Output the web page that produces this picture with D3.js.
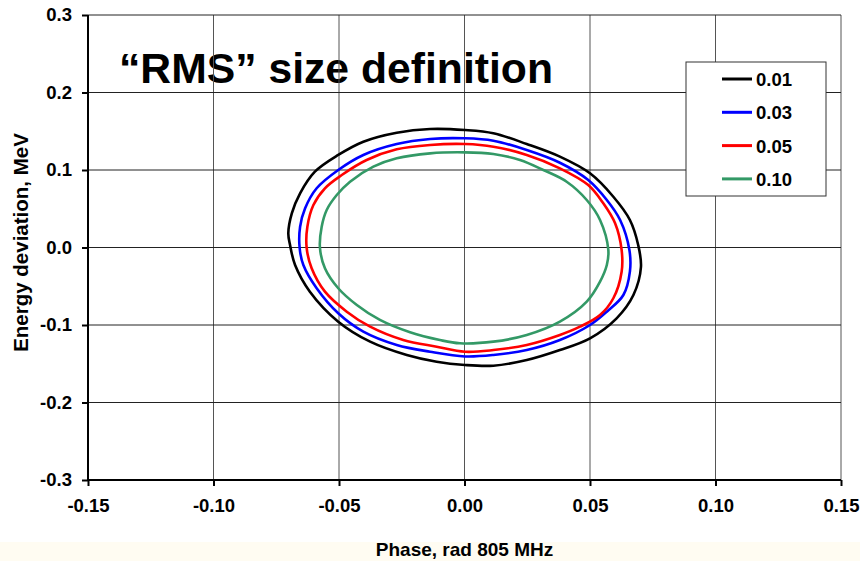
<!DOCTYPE html>
<html>
<head>
<meta charset="utf-8">
<script src="https://cdn.jsdelivr.net/npm/d3@7"></script>
<style>
	body { margin: 0; background: #fff; }
	svg text { font-family: "Liberation Sans", Arial, sans-serif; font-weight: bold; fill: #000; }
</style>
</head>
<body>
<div id="chart"></div>
<script>
// tick values
var xTicks = [-0.15, -0.10, -0.05, 0.00, 0.05, 0.10, 0.15]
var yTicks = [-0.3, -0.2, -0.1, 0.0, 0.1, 0.2, 0.3]

// legend labels
var seriesNames = ["0.01", "0.03", "0.05", "0.10"]

// contour points [phase, energy]
var contour001 = [
	[-0.0702, 0.0183], [-0.0688, 0.0441], [-0.0655, 0.0699], [-0.0596, 0.0978], [-0.0503, 0.1194],
	[-0.0403, 0.1365], [-0.0270, 0.1481], [-0.0137, 0.1529], [0.0002, 0.1516], [0.0115, 0.1474],
	[0.0248, 0.1335], [0.0380, 0.1172], [0.0500, 0.0957], [0.0593, 0.0655], [0.0659, 0.0355],
	[0.0692, 0.0032], [0.0703, -0.0252], [0.0673, -0.0613], [0.0606, -0.0914], [0.0500, -0.1172],
	[0.0380, -0.1323], [0.0248, -0.1452], [0.0115, -0.1525], [0.0002, -0.1516], [-0.0111, -0.1474],
	[-0.0230, -0.1387], [-0.0376, -0.1215], [-0.0503, -0.0957], [-0.0616, -0.0570], [-0.0675, -0.0226],
	[-0.0695, 0.0032]
]
var contour003 = [
	[-0.0655, 0.0268], [-0.0635, 0.0506], [-0.0589, 0.0764], [-0.0503, 0.1000], [-0.0403, 0.1194],
	[-0.0270, 0.1335], [-0.0137, 0.1400], [0.0002, 0.1409], [0.0115, 0.1378], [0.0248, 0.1258],
	[0.0380, 0.1094], [0.0493, 0.0871], [0.0567, 0.0613], [0.0620, 0.0355], [0.0657, -0.0032],
	[0.0659, -0.0312], [0.0633, -0.0613], [0.0567, -0.0828], [0.0500, -0.1000], [0.0380, -0.1194],
	[0.0248, -0.1323], [0.0115, -0.1387], [0.0002, -0.1406], [-0.0137, -0.1345], [-0.0270, -0.1258],
	[-0.0403, -0.1086], [-0.0503, -0.0849], [-0.0589, -0.0526], [-0.0642, -0.0226], [-0.0657, 0.0000]
]
var contour005 = [
	[-0.0626, 0.0268], [-0.0602, 0.0548], [-0.0556, 0.0764], [-0.0489, 0.0935], [-0.0390, 0.1129],
	[-0.0270, 0.1267], [-0.0137, 0.1323], [0.0002, 0.1335], [0.0115, 0.1301], [0.0248, 0.1194],
	[0.0380, 0.1022], [0.0493, 0.0806], [0.0553, 0.0570], [0.0600, 0.0312], [0.0626, -0.0032],
	[0.0626, -0.0312], [0.0593, -0.0655], [0.0540, -0.0871], [0.0460, -0.1022], [0.0380, -0.1129],
	[0.0248, -0.1258], [0.0115, -0.1323], [0.0002, -0.1345], [-0.0111, -0.1280], [-0.0244, -0.1194],
	[-0.0376, -0.1022], [-0.0469, -0.0828], [-0.0556, -0.0570], [-0.0609, -0.0268], [-0.0629, 0.0000]
]
var contour010 = [
	[-0.0569, 0.0268], [-0.0549, 0.0484], [-0.0509, 0.0677], [-0.0456, 0.0849], [-0.0363, 0.1043],
	[-0.0270, 0.1151], [-0.0137, 0.1215], [0.0002, 0.1228], [0.0115, 0.1206], [0.0221, 0.1129],
	[0.0314, 0.1000], [0.0407, 0.0849], [0.0487, 0.0613], [0.0540, 0.0355], [0.0573, -0.0032],
	[0.0567, -0.0226], [0.0540, -0.0441], [0.0487, -0.0699], [0.0380, -0.0957], [0.0248, -0.1129],
	[0.0115, -0.1215], [-0.0018, -0.1236], [-0.0098, -0.1194], [-0.0217, -0.1094], [-0.0337, -0.0935],
	[-0.0429, -0.0742], [-0.0503, -0.0526], [-0.0556, -0.0268], [-0.0576, 0.0000]
]

var contours = [contour001, contour003, contour005, contour010]
var colours = ["#000000", "#0000ff", "#ff0000", "#339966"]

var fullWidth = 860, fullHeight = 561
var margin = {top: 15, right: 19, bottom: 81, left: 88}
var width = fullWidth - margin.left - margin.right
var height = fullHeight - margin.top - margin.bottom

// plain hyphen for negatives, like the original
var locale = d3.formatLocale({decimal: ".", thousands: ",", grouping: [3], currency: ["", ""], minus: "-"})

var svg = d3.select("#chart").append("svg")
	.attr("width", fullWidth)
	.attr("height", fullHeight)

// faint cream strip along the bottom edge
svg.append("rect")
	.attr("x", 0).attr("y", 542)
	.attr("width", fullWidth).attr("height", fullHeight - 542)
	.attr("fill", "#fffcf2")

var g = svg.append("g")
	.attr("transform", "translate(" + margin.left + "," + margin.top + ")")

var xScale = d3.scaleLinear().domain([-0.15, 0.15]).range([0, width])
var yScale = d3.scaleLinear().domain([-0.3, 0.3]).range([height, 0])

// title sits under the grid
g.append("text")
	.attr("x", 31).attr("y", 68)
	.style("font-size", "42.7px")
	.text("\u201cRMS\u201d size definition")

// grid
g.append("g").selectAll("line.vx")
	.data(xTicks.slice(1))
	.enter().append("line")
	.attr("x1", d => xScale(d)).attr("x2", d => xScale(d))
	.attr("y1", 0).attr("y2", height)
	.attr("stroke", "#555").attr("stroke-width", 1)
g.append("g").selectAll("line.hy")
	.data(yTicks.slice(1))
	.enter().append("line")
	.attr("x1", 0).attr("x2", width)
	.attr("y1", d => yScale(d)).attr("y2", d => yScale(d))
	.attr("stroke", "#222").attr("stroke-width", 1)

// contours
var line = d3.line()
	.x(d => xScale(d[0]))
	.y(d => yScale(d[1]))
	.curve(d3.curveCatmullRomClosed)

g.selectAll("path.contour")
	.data(contours)
	.enter().append("path")
	.attr("class", "contour")
	.attr("d", line)
	.attr("fill", "none")
	.attr("stroke", (d, i) => colours[i])
	.attr("stroke-width", 2.6)

// axes
var xAxis = d3.axisBottom(xScale).tickValues(xTicks).tickSize(6).tickFormat(locale.format(".2f"))
var yAxis = d3.axisLeft(yScale).tickValues(yTicks).tickSize(6).tickFormat(locale.format(".1f"))

var gx = g.append("g")
	.attr("transform", "translate(0," + height + ")")
	.call(xAxis)
var gy = g.append("g").call(yAxis)

;[gx, gy].forEach(ax => {
	ax.select(".domain").attr("stroke", "#000").attr("stroke-width", 2)
	ax.selectAll(".tick line").attr("stroke", "#000").attr("stroke-width", 2)
	ax.selectAll(".tick text")
		.attr("fill", "#000")
		.style("font-size", "18.5px")
		.style("font-family", "'Liberation Sans', Arial, sans-serif")
		.style("font-weight", "bold")
})
gx.select(".domain").attr("d", "M0,0H" + width)
gy.select(".domain").attr("d", "M0," + height + "V0")
gx.selectAll(".tick text").attr("y", 19)
gy.selectAll(".tick text").attr("x", -16)

// axis titles
svg.append("text")
	.attr("x", margin.left + xScale(0)).attr("y", 556)
	.attr("text-anchor", "middle")
	.style("font-size", "19px")
	.text("Phase, rad 805 MHz")

svg.append("text")
	.attr("transform", "translate(28," + (margin.top + yScale(0) - 5) + ") rotate(-90)")
	.attr("text-anchor", "middle")
	.style("font-size", "20.5px")
	.text("Energy deviation, MeV")

// legend
var legend = svg.append("g").attr("transform", "translate(686,62)")
legend.append("rect")
	.attr("width", 140).attr("height", 134)
	.attr("fill", "#fff").attr("stroke", "#333").attr("stroke-width", 1)

var items = legend.selectAll("g.item")
	.data(seriesNames)
	.enter().append("g")
	.attr("transform", (d, i) => "translate(0," + (17 + i * 33.3) + ")")
items.append("line")
	.attr("x1", 36).attr("x2", 66)
	.attr("y1", 0).attr("y2", 0)
	.attr("stroke", (d, i) => colours[i])
	.attr("stroke-width", 3)
items.append("text")
	.attr("x", 70).attr("y", 7)
	.style("font-size", "18.5px")
	.text(d => d)
</script>
</body>
</html>
